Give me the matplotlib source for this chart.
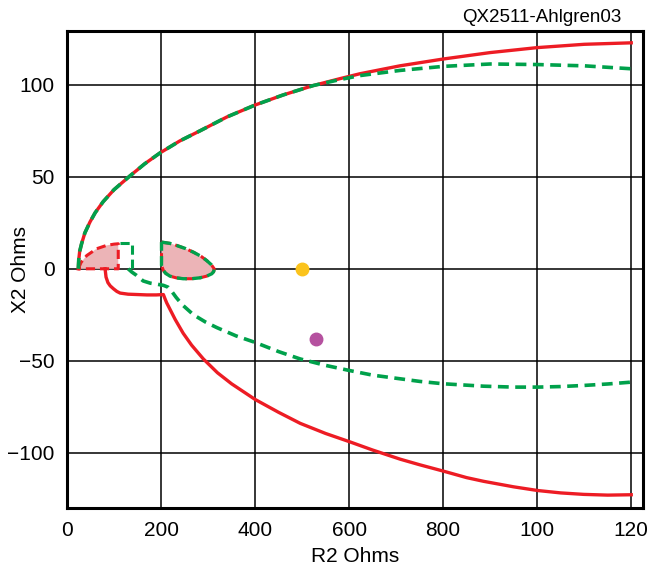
import matplotlib
matplotlib.use("Agg")
import matplotlib.pyplot as plt

plt.rcParams['font.family'] = ['Liberation Sans', 'DejaVu Sans']

# ---- data ----
red_upper_x = [24, 25, 27, 31, 38, 49, 60, 77, 100, 134, 165, 198, 240, 283, 340, 400, 460, 524, 580, 623,
               708, 800, 900, 1000, 1100, 1200]
red_upper_y = [0, 5, 9.5, 13.6, 19.5, 25.5, 30.5, 36.5, 43, 50.5, 57, 63, 69.5, 75, 82.5, 89, 94.5, 99.6, 103.3, 106,
               110.3, 114, 117.5, 120.2, 122, 122.8]

green_upper_x = [24, 25, 27, 31, 38, 49, 60, 77, 100, 134, 165, 198, 240, 283, 340, 400, 460, 524, 580, 623,
                 708, 800, 900, 1000, 1100, 1200]
green_upper_y = [0, 5, 9.5, 13.6, 19.5, 25.5, 30.5, 36.5, 43, 50.5, 57, 63, 69.5, 75, 82.5, 89, 94.5, 99.6, 102.8, 105,
                 107.8, 110, 111.3, 111, 110.3, 108.7]

red_lower_x = [81, 83, 87, 92, 99, 106, 113, 130, 150, 170, 190, 205, 208, 212, 219, 230, 247, 265, 290, 320, 350,
               400, 450, 496, 550, 601, 650, 709, 750, 801, 850, 886, 950, 1001, 1050, 1099, 1150, 1200]
red_lower_y = [0, -4.5, -7.5, -9.3, -10.9, -12.3, -13.2, -13.8, -14, -14.2, -14.2, -14, -16, -18.5, -22, -27.5, -35,
               -41.5, -49, -56.5, -62.5, -71, -78, -84, -89.5, -94, -98.5, -103.5, -106.5, -110, -113.5, -115.5,
               -118.5, -120.5, -121.8, -122.6, -123, -122.8]

green_lower_x = [130, 138, 148, 162, 177, 192, 205, 215, 222, 232, 245, 269, 295, 319, 360, 400, 450, 496, 550, 601,
                 650, 709, 750, 801, 886, 950, 1001, 1050, 1099, 1150, 1200]
green_lower_y = [0, -1.8, -3.6, -6.6, -7.8, -8.4, -9, -10, -12, -15.5, -19.5, -25, -29, -32, -36.5, -40, -45, -49,
                 -52.5, -55.3, -57.8, -59.8, -61.2, -62.5, -63.8, -64.3, -64.3, -64, -63.4, -62.6, -61.6]

green_box_x = [113, 138, 138, 130]
green_box_y = [14, 14, 0, 0]

red_region_x = [24, 30, 42, 63, 84, 100, 109, 109, 24]
red_region_y = [0, 3.5, 7.2, 10.9, 12.7, 13.4, 13.6, 0, 0]

ellipse_x = [201, 219, 233, 252, 269, 285, 297, 307, 313, 312, 308, 297, 283, 265, 247, 232, 219, 210, 205, 201, 201]
ellipse_y = [14.5, 13.8, 12.7, 11, 9, 6.8, 4.5, 2.2, 0, -1.5, -2.7, -4, -4.9, -5.4, -5.4, -4.9, -4, -2.5, -0.9, 1.8, 14.5]

point_yellow = (500, 0)
point_purple = (530, -38.4)

x_ticks = [0, 200, 400, 600, 800, 1000, 1200]
x_tick_labels = ['0', '200', '400', '600', '800', '100', '120']
y_ticks = [-100, -50, 0, 50, 100]
y_tick_labels = ['\u2212100', '\u221250', '0', '50', '100']

RED = '#ED1C24'
GREEN = '#00A14B'
PINK = '#ECB4B7'

fig = plt.figure(figsize=(6.49, 5.68), dpi=100)
ax = fig.add_axes([67/649, 1 - 508/568, (643-67)/649, (508-30.5)/568])

ax.set_xlim(0, 1225)
ax.set_ylim(-130, 129.5)

ax.set_xticks(x_ticks)
ax.set_xticklabels(x_tick_labels)
ax.set_yticks(y_ticks)
ax.set_yticklabels(y_tick_labels)
ax.tick_params(length=0, labelsize=15, pad=9)
ax.grid(True, color='black', linewidth=1.1)
ax.set_axisbelow(True)
for s in ax.spines.values():
    s.set_linewidth(2.2)

# filled regions
ax.fill(red_region_x, red_region_y, color=PINK, zorder=2, linewidth=0)
ax.fill(ellipse_x, ellipse_y, color=PINK, zorder=2, linewidth=0)
ax.plot(red_region_x, red_region_y, color=RED, lw=2.2, dashes=(3, 1.6), zorder=3)
ax.plot(ellipse_x, ellipse_y, color=RED, lw=2.2, dashes=(3, 1.6), zorder=3)
ax.plot(ellipse_x, ellipse_y, color=GREEN, lw=2.4, dashes=(3, 1.6), zorder=4)
ax.plot(green_box_x, green_box_y, color=GREEN, lw=2.2, dashes=(3, 1.6), zorder=4)

# curves
ax.plot(red_upper_x, red_upper_y, color=RED, lw=2.4, zorder=3, solid_joinstyle='round')
ax.plot(green_upper_x, green_upper_y, color=GREEN, lw=2.6, dashes=(3, 1.8), zorder=4)
ax.plot(red_lower_x, red_lower_y, color=RED, lw=2.4, zorder=3, solid_joinstyle='round')
ax.plot(green_lower_x, green_lower_y, color=GREEN, lw=2.6, dashes=(3, 1.8), zorder=4)

# points
ax.plot(*point_yellow, 'o', color='#FBC31C', markersize=9, zorder=5)
ax.plot(*point_purple, 'o', color='#B5519F', markersize=9, zorder=5)

fig.text(355/649, 1 - 556/568, 'R2 Ohms', ha='center', va='center', fontsize=15)
fig.text(21/649, 1 - 270/568, 'X2 Ohms', ha='center', va='center', rotation=90, fontsize=15)

fig.text(621/649, 1 - 18/568, 'QX2511-Ahlgren03', ha='right', va='center', fontsize=13.5)

fig.savefig('out.png', dpi=100)
